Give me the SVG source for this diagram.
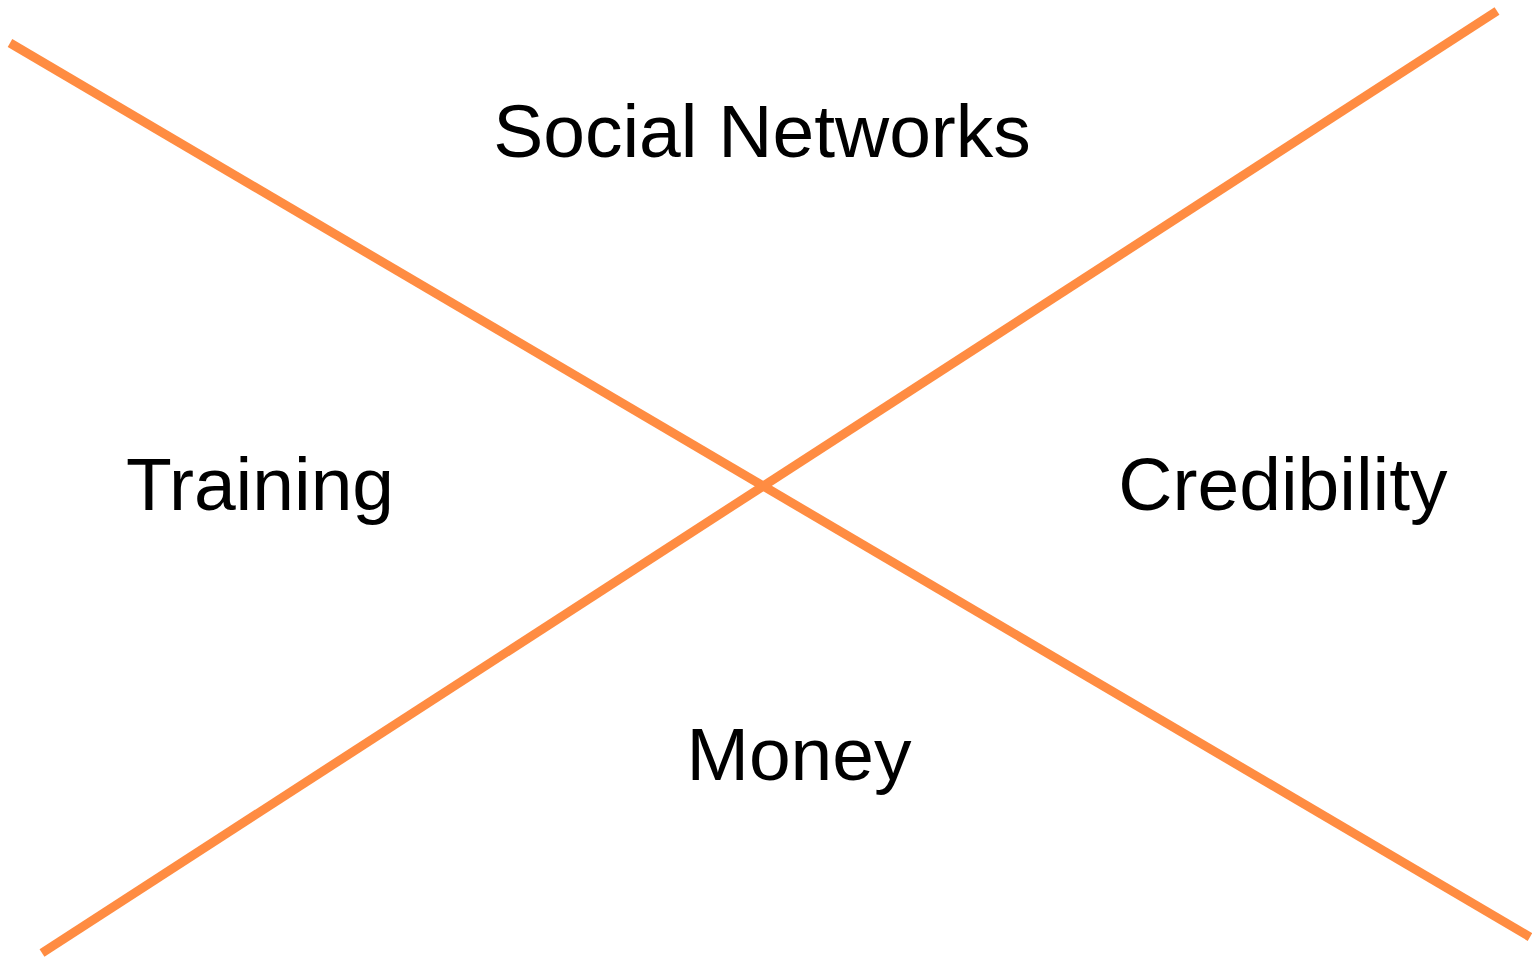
<svg xmlns="http://www.w3.org/2000/svg" width="1532" height="958" viewBox="0 0 1532 958">
<style>
.ln{stroke:#FF8C42;stroke-width:9;fill:none}
.lb{font-family:"Liberation Sans",Arial,sans-serif;font-size:75px;fill:#000;text-anchor:middle}
</style>
<rect width="1532" height="958" fill="#fff"/>
<g id="connectors">
<line class="ln" x1="10" y1="43" x2="1530" y2="937"/>
<line class="ln" x1="1497" y1="11" x2="42" y2="953"/>
</g>
<g id="social"><text class="lb" x="762" y="157">Social Networks</text></g>
<g id="training"><text class="lb" x="260" y="510">Training</text></g>
<g id="credibility"><text class="lb" x="1283" y="510">Credibility</text></g>
<g id="money"><text class="lb" x="799" y="780">Money</text></g>
</svg>
